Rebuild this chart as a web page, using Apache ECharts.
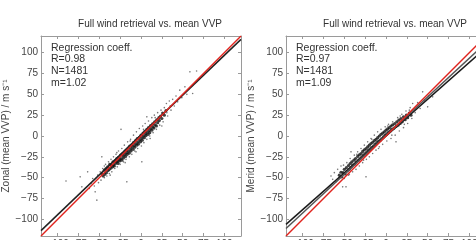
<!DOCTYPE html>
<html lang="en">
<head>
<meta charset="UTF-8">
<title>Full wind retrieval vs. mean VVP</title>
<style>
    * { padding: 0; margin: 0; }
    .box { width: 476px; height: 240px; }
</style>
</head>
<body>
<div class="box" id="myChart"></div>
<script src="https://cdn.jsdelivr.net/npm/echarts@6/dist/echarts.min.js"></script>
<script>
// tick positions, same on both axes of both panels
const ticks = [-100, -75, -50, -25, 0, 25, 50, 75, 100];
const panelTitles = ['Full wind retrieval vs. mean VVP', 'Full wind retrieval vs. mean VVP'];
const yNames = ['Zonal (mean VVP) / m s\u207b\u00b9', 'Merid (mean VVP) / m s\u207b\u00b9'];
const coeffLines = [
    ['Regression coeff.', 'R=0.98', 'N=1481', 'm=1.02'],
    ['Regression coeff.', 'R=0.97', 'N=1481', 'm=1.09']
];

// zonal panel: dense core of the cloud and the looser points around it
const zonalCore = [[-47,-45],[-45.5,-48],[-44,-41],[-43.5,-46],[-42,-39],[-41.5,-44],[-40,-37],[-39.5,-41.5],[-38,-40],[-37.5,-34],[-36,-38.5],[-35.5,-35],[-34,-37],[-33.5,-31],[-33,-34.5],[-32,-36],[-31,-29.5],[-30.5,-33],[-29.5,-31],[-29,-27],[-28,-30.5],[-27.5,-33],[-27,-25.5],[-26,-28],[-25.5,-30],[-24.5,-23],[-24,-27],[-23,-29],[-22.5,-21.5],[-21.5,-24],[-21,-26.5],[-20,-19],[-19.5,-22],[-18.5,-24.5],[-18,-17],[-17,-20],[-16.5,-22],[-15.5,-14.5],[-15,-18],[-14,-20.5],[-13.5,-12],[-12.5,-15.5],[-12,-18],[-11,-10.5],[-10.5,-13],[-9.5,-16],[-9,-8],[-8,-11.5],[-7.5,-13.5],[-6.5,-5.5],[-6,-9],[-5,-11],[-4.5,-3],[-3.5,-7],[-3,-9.5],[-2,-1.5],[-1.5,-4.5],[-0.5,-7],[0,1],[1,-2.5],[1.5,-5],[2.5,3.5],[3,0],[4,-2],[4.5,5.5],[5.5,2.5],[6,0.5],[7,8],[7.5,4.5],[8.5,2],[9,10],[10,6.5],[10.5,4],[11.5,12.5],[12,9],[13,7],[14,14.5],[14.5,11],[15.5,9.5],[16.5,17],[17,13.5],[18.5,12],[19,19.5],[20,16],[21.5,22],[22,18.5],[23.5,24],[25,21],[26,27.5],[28,25],[30,30.5]];
const zonalSpread = [[-90,-54],[-73,-49],[-71,-61],[-64,-43],[-62,-63],[-60,-57],[-58,-51],[-56,-60],[-55,-67],[-53,-77],[-52,-47],[-51,-56],[-49,-43],[-48,-53],[-47,-25],[-46,-39],[-44,-50],[-42.5,-34],[-41,-48],[-39,-31],[-38,-45],[-36,-28],[-35,-43],[-33,-25],[-31.5,-39],[-30,-22],[-28.5,-37],[-27,-18],[-25,-34],[-24,8],[-23,-15],[-21,-31],[-20,-11],[-18,-28],[-17,-55],[-16,-7],[-14,-25],[-12.5,-4],[-11,-22],[-9,1],[-7.5,-18],[-5.5,5],[-4,-15],[-2,9],[1,-31],[0.5,-12],[2,12],[3.5,-8],[5,15],[7,23],[7,-4],[9,18],[10.5,0],[13,22],[14.5,4],[16,25],[18.5,8],[20,28],[22.5,13],[24,31],[26.5,17],[28,34],[30.5,39],[32,24],[34,42],[36,31],[38,44],[40,36],[42,48],[44,41],[46.5,55],[49,46],[52.7,59],[55,50],[58.7,77],[62,51],[66.7,78],[-44,-36],[-37,-47],[-29,-20],[-19,-32],[-13,-6],[-6,-19],[3,8],[11,-3],[17,22],[25,12],[31,28],[35,36]];
const zonalOneToOne = [[-120, -120], [120, 120]];
const zonalFit = [[-120, -113.5], [120, 116]];

// meridional panel
const meridCore = [[-56,-47],[-54,-43.5],[-53,-49],[-51.5,-44],[-50,-40],[-49,-45.5],[-47.5,-38],[-46.5,-42],[-45,-35.5],[-44,-40],[-43,-33],[-42,-37.5],[-41,-31],[-40,-35],[-38.5,-29],[-37.5,-33.5],[-36.5,-27],[-35.5,-31],[-34,-24.5],[-33,-29],[-32,-22.5],[-31,-27],[-30,-21],[-29,-25],[-28,-18.5],[-27,-23],[-26,-16.5],[-25,-21],[-24,-15],[-23,-19],[-22,-13],[-21,-17],[-20,-11],[-19,-15.5],[-18,-9],[-17,-13.5],[-16,-7.5],[-15,-12],[-14,-5.5],[-13,-10],[-12,-4],[-11,-8],[-10,-2],[-9,-6.5],[-8,0],[-7,-5],[-6,2],[-5,-3],[-4,3.5],[-3,-1],[-2,5],[-1,1],[0,7],[1,2.5],[2,8.5],[3,4.5],[4,10],[5,6],[6,12],[7,8],[8,13.5],[9.5,9.5],[10.5,15],[12,11.5],[13,17],[14.5,13],[15.5,19],[17,15],[18,21],[19.5,17],[21,23],[23,19.5],[24.5,25],[26,22],[28,27.5],[30,25]];
const meridSpread = [[-66,-48],[-64,-52],[-62,-44],[-60,-55],[-58,-40],[-52,-61],[-48,-61],[-56,-50],[-54,-36],[-50,-51],[-47,-32],[-45,-47],[-43,-27],[-42,-19],[-40,-43],[-38,-23],[-36,-40],[-34,-19],[-32,-36],[-30,-15],[-28,-32],[-26,-11],[-24,-49],[-23.5,-28],[-22,-7],[-20,-25],[-18,-3],[-16,-21],[-14,1],[-12,-17],[-10,5],[-8,-13],[-6,8],[-4,-10],[-1,11],[1,-6],[3,14],[6,-3],[8,17],[12,-7],[11,1],[14,22],[16,6],[19,26],[21,10],[24,30],[26,15],[29,34],[31,21],[32,39],[35,28],[38,40],[41,33],[44,53],[46,43],[50,35],[51,48],[56,47],[-51,-35],[-44,-46],[-35,-22],[-27,-29],[-17,-4],[-9,-15],[2,12],[7,1],[17,24],[22,14],[28,31]];
const meridOneToOne = [[-120, -120], [120, 120]];
const meridFitA = [[-120, -106], [120, 106]];
const meridFitB = [[-120, -111], [120, 112]];

const FONT = 'Liberation Sans, Arial, sans-serif';
const minus = v => String(v).replace('-', '\u2212');

// one axis of the box; labelled ones sit bottom/left, the others only carry inward ticks
function makeAxis(gridIndex, position, labelled, name, gap) {
    return {
        type: 'value',
        gridIndex: gridIndex,
        position: position,
        min: -120,
        max: 120,
        name: name || '',
        nameLocation: 'middle',
        nameGap: gap || 20,
        nameTextStyle: { color: '#444', fontSize: 10, fontFamily: FONT },
        axisLine: { show: true, onZero: false, lineStyle: { color: '#9a9a9a', width: 1 } },
        axisTick: { show: true, inside: true, length: 3, customValues: ticks, lineStyle: { color: '#9a9a9a' } },
        axisLabel: {
            show: labelled,
            customValues: ticks,
            margin: 3,
            hideOverlap: false,
            color: '#444',
            fontSize: 10,
            fontFamily: FONT,
            formatter: minus
        },
        splitLine: { show: false }
    };
}

function dots(data, idx, size, color) {
    return {
        type: 'scatter', data: data, xAxisIndex: idx * 2, yAxisIndex: idx * 2,
        symbolSize: size, itemStyle: { color: color }, silent: true, z: 2
    };
}

function line(data, idx, color, width) {
    return {
        type: 'line', data: data, xAxisIndex: idx * 2, yAxisIndex: idx * 2,
        symbol: 'none', lineStyle: { color: color, width: width }, silent: true, z: 3
    };
}

let myChart = echarts.init(document.getElementById('myChart'));
let option = {
    backgroundColor: '#ffffff',
    animation: false,
    grid: [
        { left: 41, top: 36, width: 200, height: 200, outerBoundsMode: 'none', containLabel: false },
        { left: 286, top: 36, width: 200, height: 200, outerBoundsMode: 'none', containLabel: false }
    ],
    xAxis: [
        makeAxis(0, 'bottom', true), makeAxis(0, 'top', false),
        makeAxis(1, 'bottom', true), makeAxis(1, 'top', false)
    ],
    yAxis: [
        makeAxis(0, 'left', true, yNames[0], 23), makeAxis(0, 'right', false),
        makeAxis(1, 'left', true, yNames[1], 20), makeAxis(1, 'right', false)
    ],
    graphic: [0, 1].map(i => ({
        type: 'group',
        children: [
            {
                type: 'text', x: [150, 395][i], y: 24,
                style: { text: panelTitles[i], fill: '#333', font: '10px ' + FONT, align: 'center', verticalAlign: 'middle' }
            },
            {
                type: 'text', x: [51, 296][i], y: 42,
                style: { text: coeffLines[i].join('\n'), fill: '#333', font: '10.5px ' + FONT, lineHeight: 11.7, verticalAlign: 'top' }
            }
        ]
    })),
    series: [
        dots(zonalSpread, 0, 1.6, '#555'),
        dots(zonalCore, 0, 3.2, '#111'),
        line(zonalFit, 0, '#222', 1.5),
        line(zonalOneToOne, 0, '#e0231d', 1.5),
        dots(meridSpread, 1, 1.6, '#555'),
        dots(meridCore, 1, 3.2, '#111'),
        line(meridFitA, 1, '#1a1a1a', 1.5),
        line(meridFitB, 1, '#555', 1.5),
        line(meridOneToOne, 1, '#e0231d', 1.5)
    ]
};
myChart.setOption(option, true);
</script>
</body>
</html>
